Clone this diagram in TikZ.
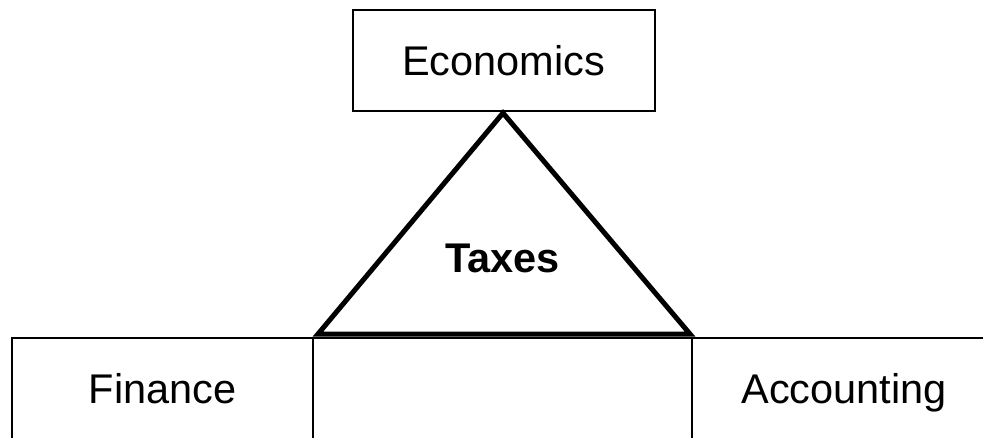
\documentclass[tikz,border=0pt]{standalone}
\usepackage{fontspec}
\setmainfont{Liberation Sans}
\begin{document}
\begin{tikzpicture}[x=1pt,y=-1pt,
  boxstyle/.style={draw=black,line width=2pt,rectangle,inner sep=0pt,outer sep=0pt},
  lbl/.style={anchor=base,inner sep=0pt,font=\fontsize{41.5}{50}\selectfont},
  tri/.style={draw=black,line width=5pt,line join=miter}]
\useasboundingbox (0,0) rectangle (983,437);
\clip (0,0) rectangle (983,437);
\fill[white] (0,0) rectangle (983,437);
% boxes
\node[boxstyle,minimum width=302pt,minimum height=101pt] (econ) at (504,60.5) {};
\node[boxstyle,minimum width=301pt,minimum height=140pt] (fin) at (162.5,408) {};
\node[boxstyle,minimum width=379pt,minimum height=140pt] (mid) at (502.5,408) {};
\node[boxstyle,minimum width=310pt,minimum height=140pt] (acc) at (847,408) {};
% labels
\node[lbl] (econt) at (503.5,75) {Economics};
\node[lbl] (fint) at (162.5,403) {Finance};
\node[lbl] (acct) at (844,403) {Accounting};
% triangle
\coordinate (apex) at (503,113);
\coordinate (bl) at (318,334);
\coordinate (br) at (690,334);
\draw[tri] (apex) -- (bl) -- (br) -- cycle;
\node[lbl,font=\fontsize{41.5}{50}\selectfont\bfseries] (tax) at (502.5,272) {Taxes};
\end{tikzpicture}
\end{document}
